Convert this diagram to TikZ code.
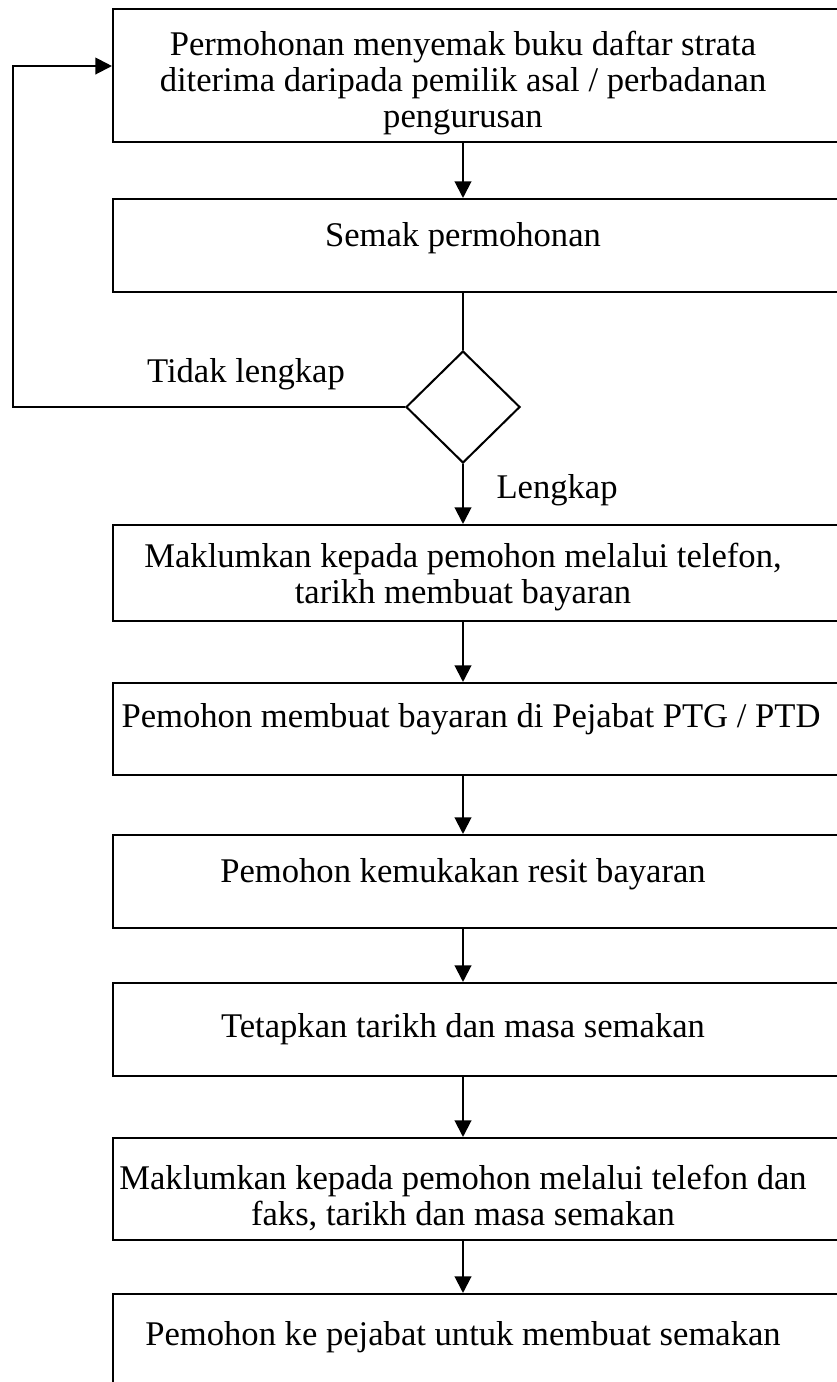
\documentclass[tikz,border=0pt]{standalone}
\usepackage{fontspec}
\setmainfont{Liberation Serif}
\usetikzlibrary{arrows.meta}
\usetikzlibrary{shapes.geometric}
\newcommand{\pxu}{0.39pt}

\begin{document}
\begin{tikzpicture}[x=0.39pt, y=-0.39pt,
  box/.style={draw, line width=0.8pt, minimum width=729*\pxu, inner sep=0pt},
  txt/.style={align=center, anchor=north, inner sep=0pt, font=\fontsize{13.5}{14}\selectfont},
  arr/.style={line width=0.8pt, -{Triangle[width=6.5pt,length=6.5pt]}},
  decide/.style={draw, diamond, line width=0.8pt, minimum width=114*\pxu, minimum height=112*\pxu, inner sep=0pt}]
  \useasboundingbox (0,0) rectangle (837,1382);

  % Boxes (right side runs off the page)
  \node[box, minimum height=133*\pxu] (b1) at (477.5,75.5) {};
  \node[box, minimum height=93*\pxu]  (b2) at (477.5,245.5) {};
  \node[decide] (dec) at (463,407) {};
  \node[box, minimum height=96*\pxu]  (b3) at (477.5,573) {};
  \node[box, minimum height=92*\pxu]  (b4) at (477.5,729) {};
  \node[box, minimum height=93*\pxu]  (b5) at (477.5,881.5) {};
  \node[box, minimum height=93*\pxu]  (b6) at (477.5,1029.5) {};
  \node[box, minimum height=102*\pxu] (b7) at (477.5,1189) {};
  \node[box, minimum height=96*\pxu]  (b8) at (477.5,1342) {};

  % Texts
  \node[txt] (t1) at (463,31) {Permohonan menyemak buku daftar strata\\ diterima daripada pemilik asal / perbadanan\\ pengurusan};
  \node[txt] (t2) at (463,222) {Semak permohonan};
  \node[txt] (t3) at (463,543) {Maklumkan kepada pemohon melalui telefon,\\ tarikh membuat bayaran};
  \node[txt] (t4) at (471,703) {Pemohon membuat bayaran di Pejabat PTG / PTD};
  \node[txt] (t5) at (463,858) {Pemohon kemukakan resit bayaran};
  \node[txt] (t6) at (463,1013) {Tetapkan tarikh dan masa semakan};
  \node[txt] (t7) at (463,1165) {Maklumkan kepada pemohon melalui telefon dan\\ faks, tarikh dan masa semakan};
  \node[txt] (t8) at (463,1321) {Pemohon ke pejabat untuk membuat semakan};

  % Branch labels
  \node[font=\fontsize{13.5}{14}\selectfont] (no) at (246,374) {Tidak lengkap};
  \node[font=\fontsize{13.5}{14}\selectfont, anchor=west, inner sep=0pt] (yes) at (496,490) {Lengkap};

  % Connectors
  \coordinate (loop) at (13,66);
  \draw[arr] (b1.south -| dec) -- (b2.north -| dec);
  \draw[line width=0.8pt] (b2.south -| dec) -- (dec.north);
  \draw[arr] (dec.south) -- (b3.north -| dec);
  \draw[arr] (dec.west) -| (loop) -- (loop -| b1.west);
  \draw[arr] (b3.south -| dec) -- (b4.north -| dec);
  \draw[arr] (b4.south -| dec) -- (b5.north -| dec);
  \draw[arr] (b5.south -| dec) -- (b6.north -| dec);
  \draw[arr] (b6.south -| dec) -- (b7.north -| dec);
  \draw[arr] (b7.south -| dec) -- (b8.north -| dec);
\end{tikzpicture}
\end{document}
